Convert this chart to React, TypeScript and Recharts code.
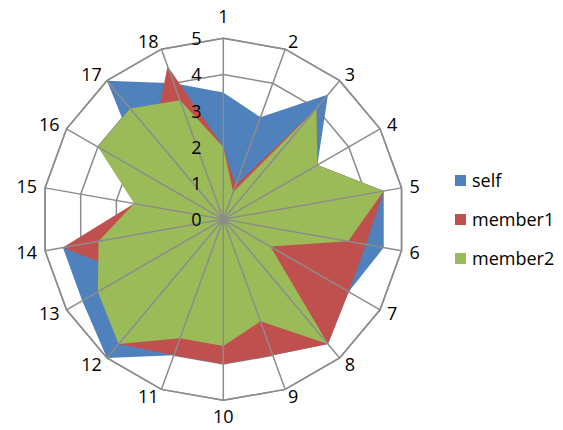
import React from 'react';
import { RadarChart, Radar, PolarGrid, PolarAngleAxis, PolarRadiusAxis } from 'recharts';

const categories = ['1', '2', '3', '4', '5', '6', '7', '8', '9', '10', '11', '12', '13', '14', '15', '16', '17', '18'];
const selfValues = [3.5, 3, 4.5, 3, 4.5, 4.5, 4, 4.5, 4, 4, 4, 5, 4.5, 4.5, 2, 2.5, 5, 4];
const member1Values = [2, 1, 4, 3, 4.5, 4, 4, 4.5, 4, 4, 4, 4.5, 3, 4.5, 2.5, 3, 3, 4.5];
const member2Values = [2, 0.8, 4, 3, 4.5, 3.5, 1.5, 4.5, 3, 3.5, 3.5, 4.5, 4, 3.5, 2.5, 4, 4, 3.5];
const radiusTicks = [0, 1, 2, 3, 4, 5];

const seriesNames = ['self', 'member1', 'member2'];
const seriesColors = ['#4F81BD', '#C0504D', '#9BBB59'];

const data = categories.map((c, i) => ({
  name: c,
  self: selfValues[i],
  member1: member1Values[i],
  member2: member2Values[i],
}));

const W = 563;
const H = 430;
const CX = 223.3;
const CY = 219.3;
const R = 181;
const FONT = '"Open Sans", "Liberation Sans", sans-serif';
const FS = 18;
const margin = { top: 0, right: 0, bottom: 0, left: 0 };

const AngleTick = (props: any) => {
  const { x, y, payload } = props;
  const cx = typeof props.cx === 'number' ? props.cx : CX;
  const cy = typeof props.cy === 'number' ? props.cy : CY;
  const dx = x - cx;
  const dy = y - cy;
  const len = Math.sqrt(dx * dx + dy * dy) || 1;
  const ux = dx / len;
  const uy = dy / len;
  let anchor: 'start' | 'middle' | 'end' = 'middle';
  let ty = y;
  if (Math.abs(ux) < 0.05) {
    anchor = 'middle';
    ty = y + (uy < 0 ? -14 : 8);
  } else {
    anchor = ux > 0 ? 'start' : 'end';
    ty = y;
  }
  return (
    <text
      x={x}
      y={ty}
      dy="0.357em"
      textAnchor={anchor}
      fontFamily={FONT}
      fontSize={FS}
      fill="#000"
    >
      {payload.value}
    </text>
  );
};

const RadiusTick = (props: any) => {
  const { x, y, payload } = props;
  return (
    <text
      x={x - 27}
      y={y + 0.5}
      dy="0.357em"
      textAnchor="middle"
      fontFamily={FONT}
      fontSize={FS}
      fill="#000"
    >
      {payload.value}
    </text>
  );
};

const layerStyle: React.CSSProperties = { position: 'absolute', left: 0, top: 0 };

export default function App() {
  return (
    <div style={{ position: 'absolute', left: 0, top: 0, width: W, height: H, background: '#fff' }}>
      <div style={layerStyle}>
        <RadarChart width={W} height={H} data={data} cx={CX} cy={CY} outerRadius={R} margin={margin}>
          <PolarGrid gridType="polygon" radialLines={false} stroke="#8c8c8c" strokeWidth={1.5} />
          <PolarAngleAxis dataKey="name" tick={false} axisLine={false} tickLine={false} />
          <PolarRadiusAxis domain={[0, 5]} ticks={radiusTicks as any} tickCount={6} angle={90} tick={false} axisLine={false} />
          {seriesNames.map((s, i) => (
            <Radar
              key={s}
              name={s}
              dataKey={s}
              fill={seriesColors[i]}
              fillOpacity={1}
              stroke="none"
              dot={false}
              isAnimationActive={false}
            />
          ))}
        </RadarChart>
      </div>
      <div style={layerStyle}>
        <RadarChart width={W} height={H} data={data} cx={CX} cy={CY} outerRadius={R} margin={margin}>
          <PolarGrid gridType="polygon" radialLines={true} polarRadius={[R]} stroke="#8c8c8c" strokeWidth={1.5} />
          <PolarAngleAxis dataKey="name" tick={<AngleTick />} axisLine={false} tickLine={false} />
          <PolarRadiusAxis domain={[0, 5]} ticks={radiusTicks as any} tickCount={6} angle={90} tick={<RadiusTick />} axisLine={false} />
          <Radar dataKey="self" fill="none" fillOpacity={0} stroke="none" dot={false} isAnimationActive={false} />
        </RadarChart>
      </div>
      <div style={{ position: 'absolute', left: 455, top: 168, fontFamily: FONT, fontSize: FS, color: '#000' }}>
        {seriesNames.map((s, i) => (
          <div key={s} style={{ display: 'flex', alignItems: 'center', height: 24, marginBottom: i < 2 ? 15 : 0 }}>
            <span style={{ display: 'inline-block', width: 11, height: 11, background: seriesColors[i], marginRight: 6 }} />
            <span style={{ lineHeight: '24px' }}>{s}</span>
          </div>
        ))}
      </div>
    </div>
  );
}
